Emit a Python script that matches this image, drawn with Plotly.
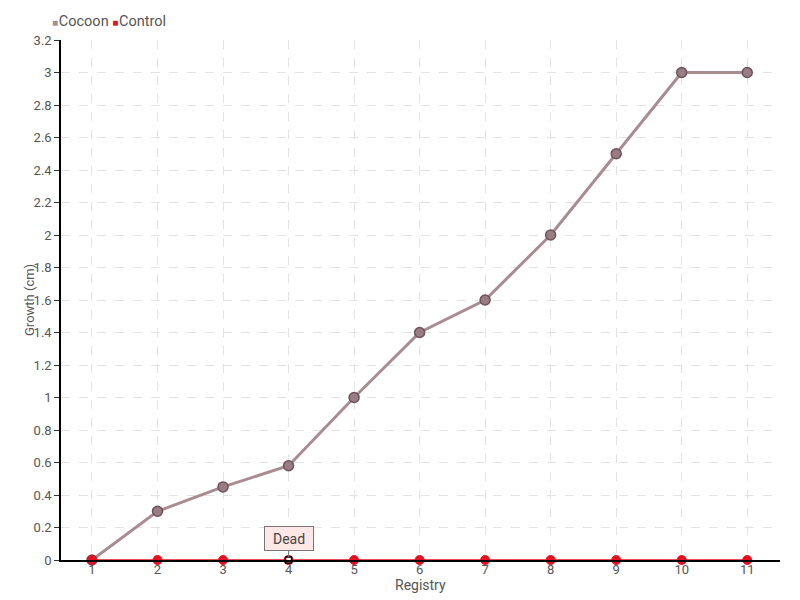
import plotly.graph_objects as go

registry = [1, 2, 3, 4, 5, 6, 7, 8, 9, 10, 11]
cocoon = [0, 0.3, 0.45, 0.58, 1.0, 1.4, 1.6, 2.0, 2.5, 3.0, 3.0]
control = [0, 0, 0, 0, 0, 0, 0, 0, 0, 0, 0]
dead_index = 3
y_ticks = [0, 0.2, 0.4, 0.6, 0.8, 1, 1.2, 1.4, 1.6, 1.8, 2, 2.2, 2.4, 2.6, 2.8, 3, 3.2]

FONT = "Roboto, sans-serif"
C_COC = "#a88c90"
C_COC_M = "#9a7d82"
C_COC_E = "#6c5358"
C_CTL = "#e8101f"
TXT = "#555555"

fig = go.Figure()

fig.add_trace(go.Scatter(
    x=registry, y=cocoon, mode="lines+markers", name="Cocoon", showlegend=False,
    line=dict(color=C_COC, width=3),
    marker=dict(size=10, color=C_COC_M, line=dict(color=C_COC_E, width=1.5)),
    cliponaxis=False,
))

fig.add_trace(go.Scatter(
    x=registry, y=control, mode="lines+markers", name="Control", showlegend=False,
    line=dict(color=C_CTL, width=1.5),
    marker=dict(size=9, color=C_CTL, line=dict(color=C_CTL, width=1)),
    cliponaxis=False,
))

# "Dead" point overlay
fig.add_trace(go.Scatter(
    x=[registry[dead_index]], y=[control[dead_index]], mode="markers",
    showlegend=False, hoverinfo="skip",
    marker=dict(symbol="square", size=6, color="white", line=dict(color="black", width=1.5)),
    cliponaxis=False,
))

# legend (compact, as in reference)
fig.add_annotation(
    xref="paper", yref="paper", x=-0.015, y=1.035, xanchor="left", yanchor="middle",
    showarrow=False,
    text=(f"<span style='color:{C_COC};font-size:10px'>■</span>"
          f"<span style='font-size:3px'> </span>Cocoon "
          f"<span style='color:{C_CTL};font-size:10px'>■</span>"
          f"<span style='font-size:3px'> </span>Control"),
    font=dict(family=FONT, size=14.5, color=TXT),
)

fig.add_annotation(
    x=registry[dead_index], y=control[dead_index], text="Dead",
    showarrow=True, arrowhead=0, arrowwidth=1, arrowcolor="#777777",
    ax=0, ay=-22, standoff=3, width=46, height=21,
    bgcolor="#fde6e6", bordercolor="#777777", borderwidth=1,
    font=dict(family=FONT, size=14, color="#444444"),
)

# axis titles
fig.add_annotation(
    xref="paper", yref="paper", x=0.5, y=0, yshift=-25, xanchor="center", yanchor="middle",
    showarrow=False, text="Registry", font=dict(family=FONT, size=14, color=TXT),
)
fig.add_annotation(
    xref="paper", yref="paper", x=0, y=0.5, xshift=-32, xanchor="center", yanchor="middle",
    showarrow=False, text="Growth (cm)", textangle=-90,
    font=dict(family=FONT, size=13, color=TXT),
)

fig.update_layout(
    width=800, height=600,
    margin=dict(l=61, r=20, t=40, b=40, autoexpand=False),
    paper_bgcolor="white", plot_bgcolor="white",
    font=dict(family=FONT, size=14, color=TXT),
    showlegend=False,
    xaxis=dict(
        range=[0.527, 11.5], tickmode="array", tickvals=registry,
        ticktext=[str(v) for v in registry], automargin=False,
        showgrid=True, gridcolor="#e3e3e3", griddash="dash", gridwidth=1,
        showline=True, linecolor="black", linewidth=1.5, ticks="", zeroline=False,
        ticklabelstandoff=-3, tickfont=dict(size=13),
    ),
    yaxis=dict(
        range=[0, 3.2], tickmode="array", tickvals=y_ticks,
        ticktext=[f"{v:g}" for v in y_ticks], automargin=False,
        showgrid=True, gridcolor="#e3e3e3", griddash="dash", gridwidth=1,
        showline=True, linecolor="black", linewidth=1.5, ticks="outside",
        ticklen=5, tickcolor="#333333", zeroline=False, tickfont=dict(size=13),
    ),
)

fig.write_html("out.html", config={"displayModeBar": False},
               post_script="document.body.style.margin='0';")
